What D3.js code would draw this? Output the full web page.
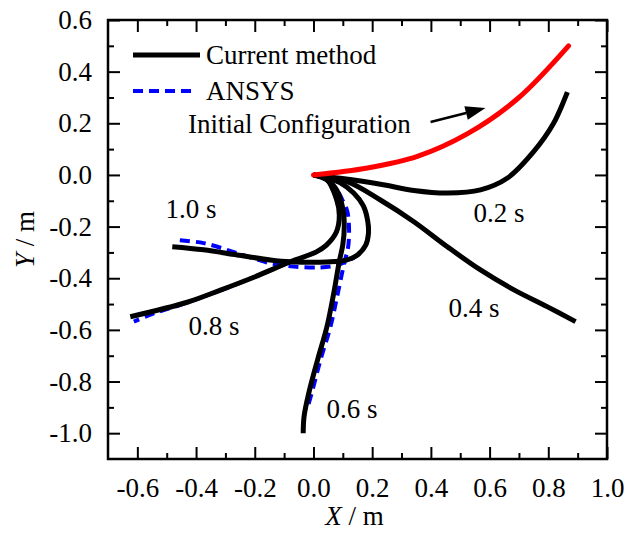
<!DOCTYPE html>
<html>
<head>
<meta charset="utf-8">
<script src="https://cdn.jsdelivr.net/npm/d3@7"></script>
<style>
  body { margin: 0; background: #fff; }
  svg { font-family: "Liberation Serif", "Times New Roman", serif; }
</style>
</head>
<body>
<svg id="chart" width="628" height="535"></svg>
<script>
// beam shapes, [x, y] in metres, clamped end first
const initialConfig = [[0, 0], [0.184, 0.027], [0.354, 0.072], [0.525, 0.160], [0.695, 0.295], [0.869, 0.50]];

const current02 = [[0, 0], [0.092, -0.013], [0.228, -0.036], [0.342, -0.060], [0.456, -0.070], [0.569, -0.058],
  [0.661, -0.012], [0.750, 0.090], [0.818, 0.200], [0.865, 0.321]];
const current04 = [[0, 0], [0.115, -0.026], [0.228, -0.097], [0.342, -0.181], [0.456, -0.278], [0.569, -0.368],
  [0.683, -0.445], [0.796, -0.510], [0.893, -0.568]];
const current06 = [[0, 0], [0.045, -0.018], [0.08, -0.06], [0.1, -0.13], [0.105, -0.2], [0.1, -0.27], [0.088, -0.335],
  [0.069, -0.458], [0.046, -0.587], [0.014, -0.716], [-0.016, -0.845], [-0.032, -0.935], [-0.035, -1.0]];
const current08 = [[0, 0], [0.044, -0.016], [0.078, -0.092], [0.088, -0.156], [0.078, -0.221], [0.044, -0.272],
  [0.010, -0.298], [-0.078, -0.336], [-0.203, -0.396], [-0.317, -0.446], [-0.430, -0.493], [-0.624, -0.549]];
const current10 = [[0, 0], [0.04, -0.008], [0.09, -0.03], [0.137, -0.07], [0.17, -0.12], [0.185, -0.18], [0.187, -0.23],
  [0.178, -0.272], [0.15, -0.31], [0.112, -0.330], [0.045, -0.337], [-0.078, -0.336], [-0.147, -0.329],
  [-0.260, -0.310], [-0.374, -0.290], [-0.481, -0.278]];

const ansys06 = [[0, 0], [0.045, -0.018], [0.08, -0.06], [0.1, -0.1], [0.115, -0.14], [0.121, -0.2], [0.118, -0.28],
  [0.105, -0.34], [0.083, -0.458], [0.058, -0.587], [0.024, -0.716], [-0.006, -0.845], [-0.02, -0.90]];
const ansys08 = [[0, 0], [0.044, -0.016], [0.078, -0.092], [0.088, -0.156], [0.078, -0.221], [0.044, -0.272],
  [0.010, -0.298], [-0.078, -0.336], [-0.203, -0.396], [-0.317, -0.447], [-0.453, -0.503], [-0.544, -0.536], [-0.612, -0.568]];
const ansys10 = [[0, 0], [0.04, -0.008], [0.09, -0.03], [0.137, -0.07], [0.17, -0.12], [0.185, -0.18], [0.187, -0.23],
  [0.178, -0.272], [0.15, -0.31], [0.112, -0.335], [0.08, -0.35], [0.024, -0.358], [-0.067, -0.355], [-0.147, -0.342],
  [-0.260, -0.303], [-0.374, -0.264], [-0.470, -0.252]];

const timeLabels = ["0.2 s", "0.4 s", "0.6 s", "0.8 s", "1.0 s"];
const legendLabels = ["Current method", "ANSYS", "Initial Configuration"];

const xMajor = [-0.6, -0.4, -0.2, 0.0, 0.2, 0.4, 0.6, 0.8, 1.0];
const xTickLabels = ["-0.6", "-0.4", "-0.2", "0.0", "0.2", "0.4", "0.6", "0.8", "1.0"];
const xMinor = [-0.5, -0.3, -0.1, 0.1, 0.3, 0.5, 0.7, 0.9];
const yMajor = [-1.0, -0.8, -0.6, -0.4, -0.2, 0.0, 0.2, 0.4, 0.6];
const yTickLabels = ["-1.0", "-0.8", "-0.6", "-0.4", "-0.2", "0.0", "0.2", "0.4", "0.6"];
const yMinor = [-0.9, -0.7, -0.5, -0.3, -0.1, 0.1, 0.3, 0.5];

class BeamDrawer {
  constructor() {
    this.left = 108;
    this.top = 20;
    this.width = 499;
    this.height = 439;
    this.fontSize = 27;

    this.xScale = d3.scaleLinear().domain([-0.7, 1.0]).range([0, this.width]);
    this.yScale = d3.scaleLinear().domain([-1.1, 0.6]).range([this.height, 0]);
    this.line = d3.line().curve(d3.curveCatmullRom.alpha(0.5))
      .x((d) => this.xScale(d[0])).y((d) => this.yScale(d[1]));

    // where the time labels sit, in data units (start of text, baseline)
    this.labelSpots = [[0.545, -0.182], [0.460, -0.550], [0.044, -0.941], [-0.426, -0.619], [-0.504, -0.166]];
  }

  draw() {
    const svg = d3.select('#chart');
    const graph = svg.append('g').attr('transform', `translate(${this.left}, ${this.top})`);

    this.drawLines(graph);
    this.drawAxes(graph);
    this.drawLabels(graph);
    this.drawLegend(svg);
  }

  drawLines(graph) {
    const ansys = [ansys06, ansys08, ansys10];
    const current = [current02, current04, current06, current08, current10];

    graph.append('g').selectAll('path').data(ansys).enter().append('path')
      .attr('fill', 'none').attr('stroke', '#0000ff').attr('stroke-width', 4)
      .attr('stroke-dasharray', '10,6')
      .attr('d', (d) => this.line(d));

    graph.append('g').selectAll('path').data(current).enter().append('path')
      .attr('fill', 'none').attr('stroke', '#000').attr('stroke-width', 5)
      .attr('stroke-linecap', 'butt')
      .attr('d', (d) => this.line(d));

    graph.append('path').attr('fill', 'none').attr('stroke', '#ff0000').attr('stroke-width', 5)
      .attr('stroke-linecap', 'round')
      .attr('d', this.line(initialConfig));
  }

  drawAxes(graph) {
    const fmtX = (d, i) => xTickLabels[i];
    const fmtY = (d, i) => yTickLabels[i];
    const bottom = graph.append('g').attr('transform', `translate(0, ${this.height})`);
    bottom.call(d3.axisBottom(this.xScale).tickValues(xMajor).tickFormat(fmtX).tickSize(-12).tickPadding(19));
    bottom.append('g').call(d3.axisBottom(this.xScale).tickValues(xMinor).tickFormat('').tickSize(-6));

    const top = graph.append('g');
    top.call(d3.axisTop(this.xScale).tickValues(xMajor).tickFormat('').tickSize(-12));
    top.append('g').call(d3.axisTop(this.xScale).tickValues(xMinor).tickFormat('').tickSize(-6));

    const leftAx = graph.append('g');
    leftAx.call(d3.axisLeft(this.yScale).tickValues(yMajor).tickFormat(fmtY).tickSize(-12).tickPadding(16));
    leftAx.append('g').call(d3.axisLeft(this.yScale).tickValues(yMinor).tickFormat('').tickSize(-6));

    const rightAx = graph.append('g').attr('transform', `translate(${this.width}, 0)`);
    rightAx.call(d3.axisRight(this.yScale).tickValues(yMajor).tickFormat('').tickSize(-12));
    rightAx.append('g').call(d3.axisRight(this.yScale).tickValues(yMinor).tickFormat('').tickSize(-6));

    graph.selectAll('.domain').remove();
    graph.selectAll('.tick line').attr('stroke', '#000').attr('stroke-width', 2);
    graph.selectAll('.tick text').attr('fill', '#000')
      .style('font-size', `${this.fontSize}px`).style('font-family', '"Liberation Serif", serif');

    graph.append('rect').attr('width', this.width).attr('height', this.height)
      .attr('fill', 'none').attr('stroke', '#000').attr('stroke-width', 2.5);

    graph.append('text').attr('x', this.width / 2 - 3).attr('y', this.height + 66)
      .attr('text-anchor', 'middle').style('font-size', `${this.fontSize}px`)
      .html('<tspan font-style="italic">X</tspan> / m');

    graph.append('text').attr('transform', `translate(${34 - this.left}, ${this.height / 2}) rotate(-90)`)
      .attr('text-anchor', 'middle').style('font-size', `${this.fontSize}px`)
      .html('<tspan font-style="italic">Y</tspan> / m');
  }

  drawLabels(graph) {
    graph.append('g').selectAll('text').data(timeLabels).enter().append('text')
      .attr('x', (d, i) => this.xScale(this.labelSpots[i][0]))
      .attr('y', (d, i) => this.yScale(this.labelSpots[i][1]))
      .style('font-size', `${this.fontSize}px`)
      .text((d) => d);

    // arrow pointing at the initial configuration
    const x0 = this.xScale(0.399), y0 = this.yScale(0.205);
    const x1 = this.xScale(0.586), y1 = this.yScale(0.259);
    const ang = Math.atan2(y1 - y0, x1 - x0);
    const headLen = 20, headW = 7;
    const bx = x1 - headLen * Math.cos(ang), by = y1 - headLen * Math.sin(ang);
    graph.append('line').attr('x1', x0).attr('y1', y0).attr('x2', bx).attr('y2', by)
      .attr('stroke', '#000').attr('stroke-width', 2.5);
    graph.append('path').attr('fill', '#000')
      .attr('d', `M${x1},${y1}L${bx - headW * Math.sin(ang)},${by + headW * Math.cos(ang)}L${bx + headW * Math.sin(ang)},${by - headW * Math.cos(ang)}Z`);
  }

  drawLegend(svg) {
    const legend = svg.append('g');
    legend.append('line').attr('x1', 133).attr('x2', 200).attr('y1', 55).attr('y2', 55)
      .attr('stroke', '#000').attr('stroke-width', 5);
    legend.append('line').attr('x1', 133).attr('x2', 196).attr('y1', 91).attr('y2', 91)
      .attr('stroke', '#0000ff').attr('stroke-width', 4).attr('stroke-dasharray', '10,6');

    const spots = [[206, 64], [206, 100], [188, 133]];
    legend.selectAll('text').data(legendLabels).enter().append('text')
      .attr('x', (d, i) => spots[i][0]).attr('y', (d, i) => spots[i][1])
      .style('font-size', `${this.fontSize}px`)
      .text((d) => d);
  }
}

new BeamDrawer().draw();
</script>
</body>
</html>
